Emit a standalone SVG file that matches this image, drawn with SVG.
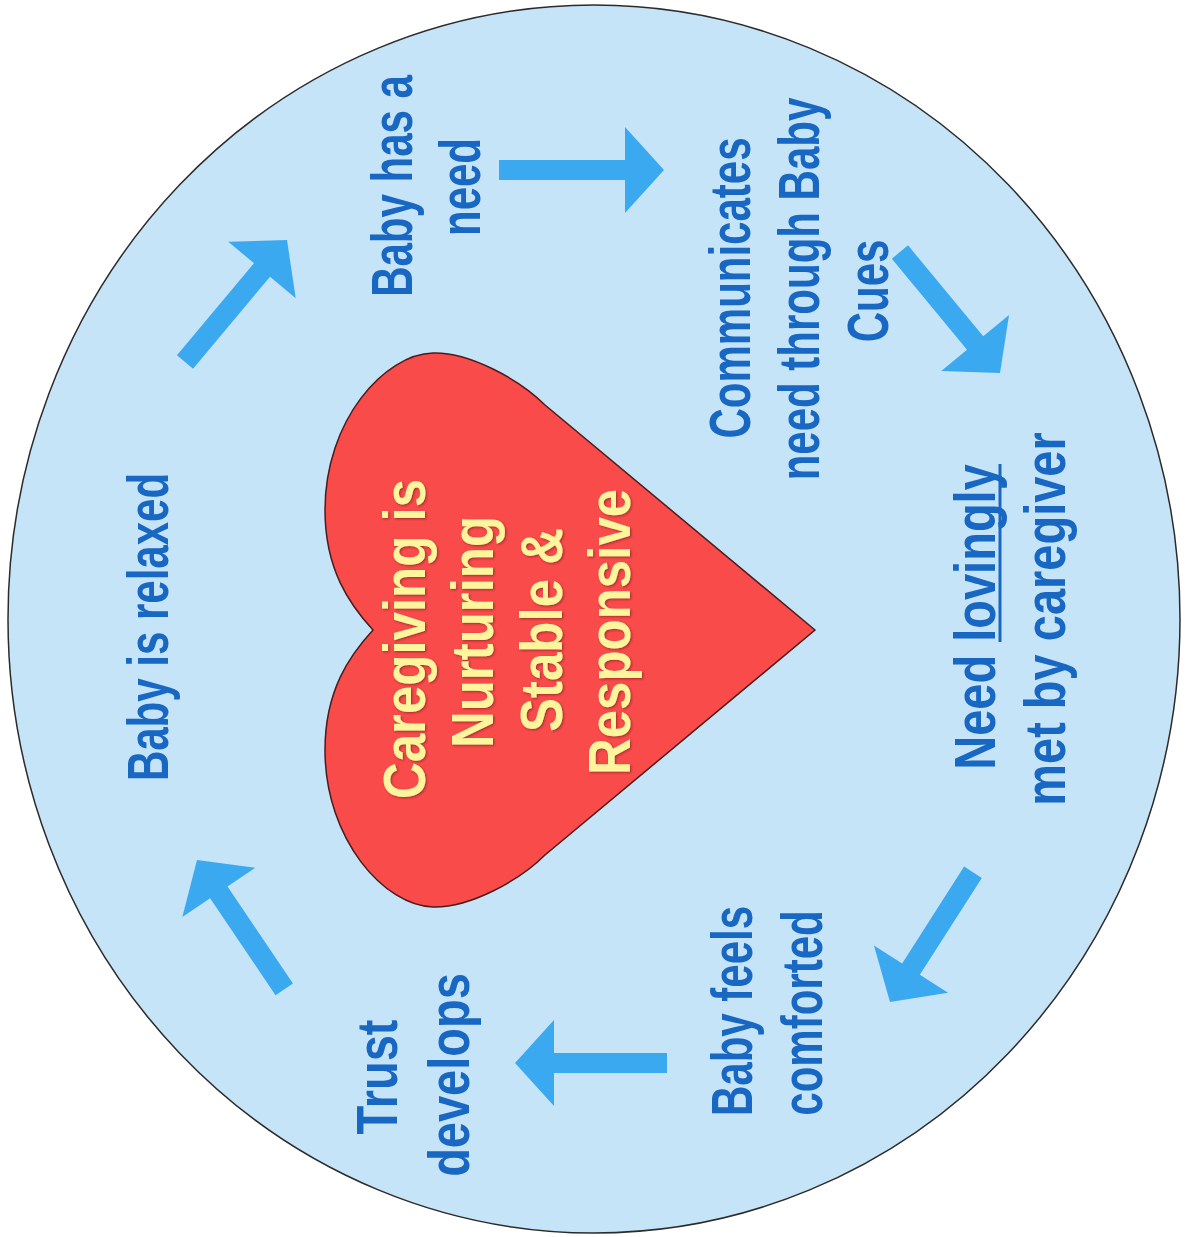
<svg xmlns="http://www.w3.org/2000/svg" width="1188" height="1237" viewBox="0 0 1188 1237">
<defs>
<style>
.lbl{font-family:"Liberation Sans",Arial,sans-serif;font-weight:bold;fill:#1767c3;text-anchor:middle}
.s42{font-size:42px}
.s47{font-size:47px}
.hrt{font-family:"Liberation Sans",Arial,sans-serif;font-weight:bold;font-size:51px;fill:#fff59d;text-anchor:middle}
.arr{fill:#3aa9f0}
</style>
<filter id="sh" x="-10%" y="-30%" width="120%" height="160%">
<feDropShadow dx="1.2" dy="1.2" stdDeviation="1" flood-color="#6a1a1a" flood-opacity="0.6"/>
</filter>
</defs>
<rect width="1188" height="1237" fill="#ffffff"/>
<g id="background">
<ellipse cx="594" cy="619" rx="586" ry="614" fill="#c6e4f8" stroke="#2b2b2b" stroke-width="1.5"/>
</g>
<g id="heart">
<path d="M815,630 L545,405 C520,380 470,352 433,353 C385,354 325,420 325,510 C325,570 350,605 373,630 C350,655 325,690 325,750 C325,840 385,906 433,907 C470,908 520,880 545,855 Z" fill="#fa4b4b" stroke="#4a1c1c" stroke-width="1.5"/>
<g filter="url(#sh)">
<text class="hrt" transform="translate(425,639) rotate(-90) scale(1,1.15)">Caregiving is</text>
<text class="hrt" transform="translate(493,632) rotate(-90) scale(1,1.15)">Nurturing</text>
<text class="hrt" transform="translate(562,630) rotate(-90) scale(1,1.15)">Stable &amp;</text>
<text class="hrt" transform="translate(630,632) rotate(-90) scale(1,1.15)">Responsive</text>
</g>
</g>
<g id="node-need">
<text class="lbl s42" transform="translate(412,186) rotate(-90) scale(1,1.36)">Baby has a</text>
<text class="lbl s42" transform="translate(480,187) rotate(-90) scale(1,1.36)">need</text>
</g>
<g id="node-communicates">
<text class="lbl s42" transform="translate(750,288) rotate(-90) scale(1,1.36)">Communicates</text>
<text class="lbl s42" transform="translate(819,289) rotate(-90) scale(1,1.36)">need through Baby</text>
<text class="lbl s42" transform="translate(888,291) rotate(-90) scale(1,1.36)">Cues</text>
</g>
<g id="node-met">
<text class="lbl s47" transform="translate(995,617) rotate(-90) scale(1,1.24)">Need lovingly</text>
<rect x="998.5" y="464" width="3" height="178" fill="#1767c3"/>
<text class="lbl s47" transform="translate(1065,619) rotate(-90) scale(1,1.24)">met by caregiver</text>
</g>
<g id="node-comforted">
<text class="lbl s42" transform="translate(752,1011) rotate(-90) scale(1,1.36)">Baby feels</text>
<text class="lbl s42" transform="translate(822,1013) rotate(-90) scale(1,1.36)">comforted</text>
</g>
<g id="node-trust">
<text class="lbl s47" transform="translate(397,1077) rotate(-90) scale(1,1.24)">Trust</text>
<text class="lbl s47" transform="translate(469,1075) rotate(-90) scale(1,1.24)">develops</text>
</g>
<g id="node-relaxed">
<text class="lbl s42" transform="translate(168,627) rotate(-90) scale(1,1.36)">Baby is relaxed</text>
</g>
<g id="connectors">
<polygon class="arr" transform="translate(287,240) rotate(-50.1)" points="-159,-10.5 -39,-10.5 -39,-44 0,0 -39,44 -39,10.5 -159,10.5"/>
<polygon class="arr" transform="translate(664,170)" points="-165,-10 -39,-10 -39,-43 0,0 -39,43 -39,10 -165,10"/>
<polygon class="arr" transform="translate(1000,373) rotate(50.4)" points="-157,-10.5 -39,-10.5 -39,-44 0,0 -39,44 -39,10.5 -157,10.5"/>
<polygon class="arr" transform="translate(890,1002) rotate(122.6)" points="-154,-10.5 -39,-10.5 -39,-44 0,0 -39,44 -39,10.5 -154,10.5"/>
<polygon class="arr" transform="translate(515,1063) rotate(180)" points="-152,-10 -39,-10 -39,-43 0,0 -39,43 -39,10 -152,10"/>
<polygon class="arr" transform="translate(197,860) rotate(-124)" points="-156,-10.5 -39,-10.5 -39,-44 0,0 -39,44 -39,10.5 -156,10.5"/>
</g>
</svg>
